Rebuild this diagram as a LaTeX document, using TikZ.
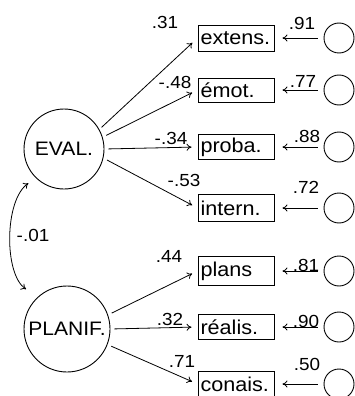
\documentclass[tikz,border=0pt]{standalone}
\usepackage{fontspec}
\setmainfont{Liberation Sans}[FakeStretch=1.08]
\usetikzlibrary{arrows.meta}
\begin{document}
\begin{tikzpicture}[x=1pt,y=-1pt,
  lat/.style={draw,circle,line width=0.9pt,minimum size=#1,inner sep=0pt,font=\fontsize{19.5}{21}\selectfont},
  obs/.style={draw,rectangle,line width=0.9pt,minimum width=76pt,minimum height=#1,inner xsep=2.5pt,inner ysep=0pt,text width=71pt,align=left,font=\fontsize{20}{22}\selectfont},
  err/.style={draw,circle,line width=0.9pt,minimum size=30pt,inner sep=0pt},
  num/.style={font=\fontsize{17.5}{19}\selectfont,inner sep=0pt},
  lnk/.style={-{To[length=5pt,width=7pt]},line width=0.8pt},
]
\useasboundingbox (0,0) rectangle (354,396);
% latent variables
\node[lat=80pt] (EVAL) at (64,149) {EVAL.};
\node[lat=86pt] (PLAN) at (67,329) {PLANIF.};
% observed
\node[obs=26pt] (ext) at (236,38) {extens.};
\node[obs=24pt] (emo) at (236,90) {émot.};
\node[obs=25pt] (pro) at (236,147) {proba.};
\node[obs=27pt] (int) at (236,208) {intern.};
\node[obs=29pt] (pla) at (236,271) {plans};
\node[obs=25pt] (rea) at (236,327) {réalis.};
\node[obs=26pt] (con) at (236,384) {conais.};
% errors
\node[err] (e1) at (339,38) {};
\node[err] (e2) at (339,90) {};
\node[err] (e3) at (339,147) {};
\node[err] (e4) at (339,208) {};
\node[err] (e5) at (339,271) {};
\node[err] (e6) at (339,327) {};
\node[err] (e7) at (339,384) {};
% loadings
\draw[lnk,shorten <=3pt,shorten >=7pt] (EVAL.29) -- (ext.west);
\draw[lnk,shorten <=4pt,shorten >=6pt] (EVAL.17) -- (emo.west);
\draw[lnk,shorten <=4pt,shorten >=6pt] (EVAL.0) -- (pro.west);
\draw[lnk,shorten <=4pt,shorten >=6pt] (EVAL.-13) -- (int.west);
\draw[lnk,shorten <=4pt,shorten >=6pt] (PLAN.19) -- (pla.west);
\draw[lnk,shorten <=4pt,shorten >=6pt] (PLAN.0) -- (rea.west);
\draw[lnk,shorten <=4pt,shorten >=6pt] (PLAN.-21) -- (con.west);
% error arrows
\draw[lnk,shorten <=6pt,shorten >=8pt] (e1.west) -- (ext.east);
\draw[lnk,shorten <=6pt,shorten >=8pt] (e2.west) -- (emo.east);
\draw[lnk,shorten <=6pt,shorten >=8pt] (e3.west) -- (pro.east);
\draw[lnk,shorten <=6pt,shorten >=8pt] (e4.west) -- (int.east);
\draw[lnk,shorten <=6pt,shorten >=8pt] (e5.west) -- (pla.east);
\draw[lnk,shorten <=6pt,shorten >=8pt] (e6.west) -- (rea.east);
\draw[lnk,shorten <=6pt,shorten >=8pt] (e7.west) -- (con.east);
% correlation
\draw[{To[length=5pt,width=7pt]}-{To[length=5pt,width=7pt]},line width=0.8pt,shorten <=9pt,shorten >=14pt]
  (EVAL.226) .. controls (4,200) and (4,275) .. (PLAN.132);
% labels
\node[num] (l1) at (165,22) {.31};
\node[num] (l2) at (175,82) {-.48};
\node[num] (l3) at (171,138) {-.34};
\node[num] (l4) at (184,180) {-.53};
\node[num] (l5) at (169,256) {.44};
\node[num] (l6) at (170,319) {.32};
\node[num] (l7) at (182,361) {.71};
\node[num] (lc) at (33,235) {-.01};
\node[num] (r1) at (302,23) {.91};
\node[num] (r2) at (303,81) {.77};
\node[num] (r3) at (307,136) {.88};
\node[num] (r4) at (306,187) {.72};
\node[num] (r5) at (306,265) {.81};
\node[num] (r6) at (306,321) {.90};
\node[num] (r7) at (307,364) {.50};
\end{tikzpicture}
\end{document}
